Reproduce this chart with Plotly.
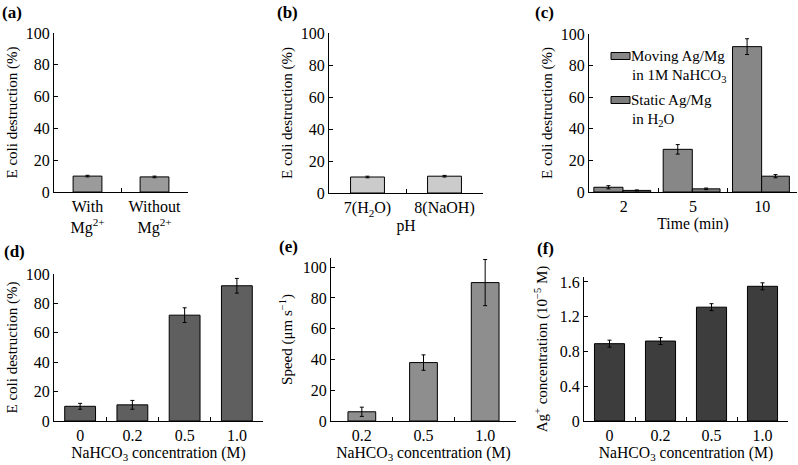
import plotly.graph_objects as go

W, H = 798, 465
FONT = "Liberation Serif, Times New Roman, serif"

# (a) Mg2+
mg_labels = ["With<br>Mg<sup>2+</sup>", "Without<br>Mg<sup>2+</sup>"]
mg_vals = [10.0, 9.5]
mg_err = [0.5, 0.5]

# (b) pH
ph_labels = ["7(H<sub>2</sub>O)", "8(NaOH)"]
ph_vals = [10.0, 10.5]
ph_err = [0.5, 0.5]

# (c) time
time_labels = ["2", "5", "10"]
moving_vals = [3.0, 27.0, 92.0]
moving_err = [1.0, 3.0, 5.0]
static_vals = [1.0, 2.0, 10.0]
static_err = [0.3, 0.5, 1.0]

# (d) destruction vs NaHCO3
conc_labels = ["0", "0.2", "0.5", "1.0"]
destr_vals = [10.0, 11.0, 72.0, 92.0]
destr_err = [2.0, 3.0, 5.0, 5.0]

# (e) speed
speed_labels = ["0.2", "0.5", "1.0"]
speed_vals = [6.0, 38.0, 90.0]
speed_err = [3.0, 5.0, 15.0]

# (f) Ag+ concentration
ag_vals = [0.89, 0.92, 1.31, 1.55]
ag_err = [0.04, 0.04, 0.04, 0.04]


def px_x(a, b):
    return [a / W, b / W]


def px_y(bottom, top):
    return [1 - bottom / H, 1 - top / H]


fig = go.Figure()


def add_bar(x, y, err, color, n, width, offset=None):
    fig.add_trace(go.Bar(
        x=x, y=y, width=width, offset=offset,
        marker=dict(color=color, line=dict(color="black", width=1)),
        error_y=dict(type="data", array=err, color="black", thickness=1, width=2),
        xaxis="x" + ("" if n == 1 else str(n)),
        yaxis="y" + ("" if n == 1 else str(n)),
        showlegend=False,
    ))


add_bar(mg_labels, mg_vals, mg_err, "#9b9b9b", 1, 0.43)
add_bar(ph_labels, ph_vals, ph_err, "#cbcbcb", 2, 0.44)
add_bar(time_labels, moving_vals, moving_err, "#878787", 3, 0.42, -0.43)
add_bar(time_labels, static_vals, static_err, "#7d7d7d", 3, 0.40, -0.01)
add_bar(conc_labels, destr_vals, destr_err, "#5f5f5f", 4, 0.59)
add_bar(speed_labels, speed_vals, speed_err, "#8e8e8e", 5, 0.45)
add_bar(conc_labels, ag_vals, ag_err, "#3d3d3d", 6, 0.59)

tickfont = dict(family=FONT, size=16, color="black")
xtitlefont = dict(family=FONT, size=15.7, color="black")
ytitlefont = dict(family=FONT, size=15, color="black")

panels = [
    # n, x domain px, y domain px, y range, dtick, y title, x title, y title standoff
    (1, (54, 188), (192, 33), [0, 100], 20, "E coli destruction (%)", "", 4),
    (2, (329, 483), (193, 33), [0, 100], 20, "E coli destruction (%)", "pH", 4),
    (3, (589, 797), (192, 34), [0, 100], 20, "E coli destruction (%)", "Time (min)", 4),
    (4, (54, 263), (421, 274), [0, 100], 20, "E coli destruction (%)", "NaHCO<sub>3</sub> concentration (M)", 4),
    (5, (331, 516), (421, 258), [0, 106], 20, "Speed (μm s<sup>−1</sup>)", "NaHCO<sub>3</sub> concentration (M)", 6),
    (6, (584, 788), (421, 277), [0, 1.657], 0.4, "Ag<sup>+</sup> concentration (10<sup>−5</sup> M)", "NaHCO<sub>3</sub> concentration (M)", 8),
]

layout = {}
for n, xd, yd, yr, dt, yt, xt, ys in panels:
    sfx = "" if n == 1 else str(n)
    layout["xaxis" + sfx] = dict(
        domain=px_x(*xd), anchor="y" + sfx, type="category",
        showline=True, linecolor="black", linewidth=1,
        ticks="inside", tickson="boundaries", ticklen=4, tickcolor="black",
        showgrid=False, zeroline=False, tickfont=tickfont,
        title=dict(text=xt, font=xtitlefont, standoff=0),
        automargin=False, fixedrange=True,
    )
    layout["yaxis" + sfx] = dict(
        domain=px_y(*yd), anchor="x" + sfx, range=yr, dtick=dt, tick0=0,
        showline=True, linecolor="black", linewidth=1,
        ticks="inside", ticklen=4, tickcolor="black",
        showgrid=False, zeroline=False, tickfont=tickfont,
        title=dict(text=yt, font=ytitlefont, standoff=ys),
        automargin=False, fixedrange=True,
    )

fig.update_layout(**layout)

# panel labels
annotations = []
for txt, x, y in [("(a)", 0, 13), ("(b)", 275, 13), ("(c)", 533, 13),
                  ("(d)", 2, 251), ("(e)", 277, 247), ("(f)", 535, 248)]:
    annotations.append(dict(
        text="<b>" + txt + "</b>", x=x / W, y=1 - y / H, xref="paper", yref="paper",
        xanchor="left", yanchor="middle", showarrow=False,
        font=dict(family=FONT, size=17, color="black"),
    ))

# legend for (c)
shapes = []
leg_items = [("#878787", 56, ["Moving Ag/Mg", "in 1M NaHCO<sub>3</sub>"]),
             ("#7d7d7d", 100, ["Static Ag/Mg", "in H<sub>2</sub>O"])]
for color, yc, lines in leg_items:
    shapes.append(dict(
        type="rect", xref="paper", yref="paper",
        x0=611 / W, x1=630 / W, y0=1 - (yc + 3.5) / H, y1=1 - (yc - 3.5) / H,
        fillcolor=color, line=dict(color="black", width=1),
    ))
    for i, line in enumerate(lines):
        annotations.append(dict(
            text=line, x=(629 if i == 0 else 630) / W, y=1 - (yc + 20 * i) / H,
            xref="paper", yref="paper", xanchor="left", yanchor="middle",
            showarrow=False, font=dict(family=FONT, size=15, color="black"),
        ))

fig.update_layout(
    width=W, height=H,
    margin=dict(l=0, r=0, t=0, b=0),
    paper_bgcolor="white", plot_bgcolor="white",
    annotations=annotations, shapes=shapes,
    barmode="overlay",
    showlegend=False,
)

# page body has a default 8px margin; drop it so the figure fills the window
fig.write_html("out.html", config={"displayModeBar": False},
               post_script="document.body.style.margin='0';")
